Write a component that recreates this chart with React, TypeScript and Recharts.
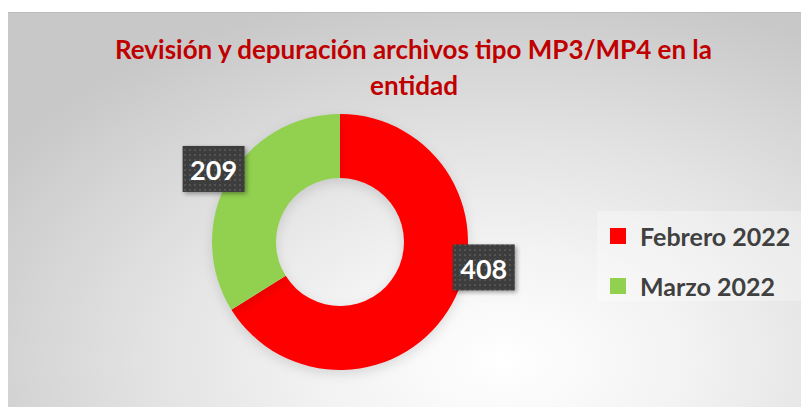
import { PieChart, Pie, Cell, Legend } from "recharts";

const categories = ["Febrero 2022", "Marzo 2022"];
const values = [408, 209];
const colors = ["#FF0000", "#92D050"];
const titleLines = ["Revisión y depuración archivos tipo MP3/MP4 en la", "entidad"];

const data = categories.map((name, i) => ({ name, value: values[i] }));

const FONT = "Lato, 'Open Sans', sans-serif";
const RAD = Math.PI / 180;

// Excel nudged the red label down toward 3 o'clock
const labelShift = [19, -1];

function renderLabel(props: any) {
  const { cx, cy, midAngle, outerRadius, value, index } = props;
  const a = (midAngle + labelShift[index]) * RAD;
  const r = outerRadius + 18;
  const x = cx + r * Math.cos(a);
  const y = cy - r * Math.sin(a);
  const id = `dots-${index}`;
  return (
    <g>
      <defs>
        <pattern id={id} width={5} height={5} patternUnits="userSpaceOnUse">
          <rect width={5} height={5} fill="#3d3d3d" />
          <rect x={1} y={1} width={2} height={2} fill="#545454" />
        </pattern>
      </defs>
      <rect
        x={x - 31}
        y={y - 23}
        width={62}
        height={46}
        fill={`url(#${id})`}
        style={{ filter: "drop-shadow(2px 2px 2px rgba(0,0,0,0.35))" }}
      />
      <text x={x} y={y + 1} textAnchor="middle" dominantBaseline="central" fill="#fff" fontFamily={FONT} fontWeight={700} fontSize={27}>
        {value}
      </text>
    </g>
  );
}

function LegendBox({ payload }: any) {
  const items = payload && payload.length ? payload : categories.map((c, i) => ({ value: c, color: colors[i] }));
  return (
    <div style={{ position: "relative", width: 206, height: 90, background: "rgba(255,255,255,0.3)" }}>
      {items.map((p: any, i: number) => (
        <div key={i} style={{ position: "absolute", left: 13, top: 17 + i * 50, display: "flex", alignItems: "center", height: 16 }}>
          <span style={{ width: 16, height: 16, background: colors[i] ?? p.color, display: "inline-block" }} />
          <span style={{ marginLeft: 14, fontFamily: FONT, fontWeight: 700, fontSize: 25, color: "#404040", whiteSpace: "nowrap" }}>
            {p.value}
          </span>
        </div>
      ))}
    </div>
  );
}

export default function App() {
  return (
    <div
      style={{
        position: "relative",
        marginTop: 4,
        width: 799,
        height: 395,
        borderTop: "1px solid #bcbcbc",
        background: "radial-gradient(ellipse 75% 95% at 62% 88%, #ffffff 0%, #f3f3f3 30%, #e2e2e2 60%, #c8c8c8 100%)",
      }}
    >
      <svg width={799} height={110} style={{ position: "absolute", left: 0, top: 0, pointerEvents: "none" }}>
        <text x={405.5} y={46} textAnchor="middle" fill="#C00000" fontFamily={FONT} fontWeight={700} fontSize={26} textLength={597} lengthAdjust="spacingAndGlyphs">
          {titleLines[0]}
        </text>
        <text x={406} y={82} textAnchor="middle" fill="#C00000" fontFamily={FONT} fontWeight={700} fontSize={26} textLength={88} lengthAdjust="spacingAndGlyphs">
          {titleLines[1]}
        </text>
      </svg>
      <PieChart width={799} height={395} margin={{ top: 0, right: 0, bottom: 0, left: 0 }} style={{ position: "absolute", left: 0, top: 0 }}>
        <Pie
          data={data}
          dataKey="value"
          nameKey="name"
          cx={332}
          cy={229}
          innerRadius={64}
          outerRadius={128}
          startAngle={90}
          endAngle={-270}
          stroke="none"
          label={renderLabel}
          labelLine={false}
          isAnimationActive={false}
        >
          {data.map((_, i) => (
            <Cell key={i} fill={colors[i]} style={{ filter: "drop-shadow(0px 4px 6px rgba(0,0,0,0.12))" }} />
          ))}
        </Pie>
        <Legend content={<LegendBox />} wrapperStyle={{ position: "absolute", left: 589, top: 198, width: 206, height: 90 }} />
      </PieChart>
    </div>
  );
}
